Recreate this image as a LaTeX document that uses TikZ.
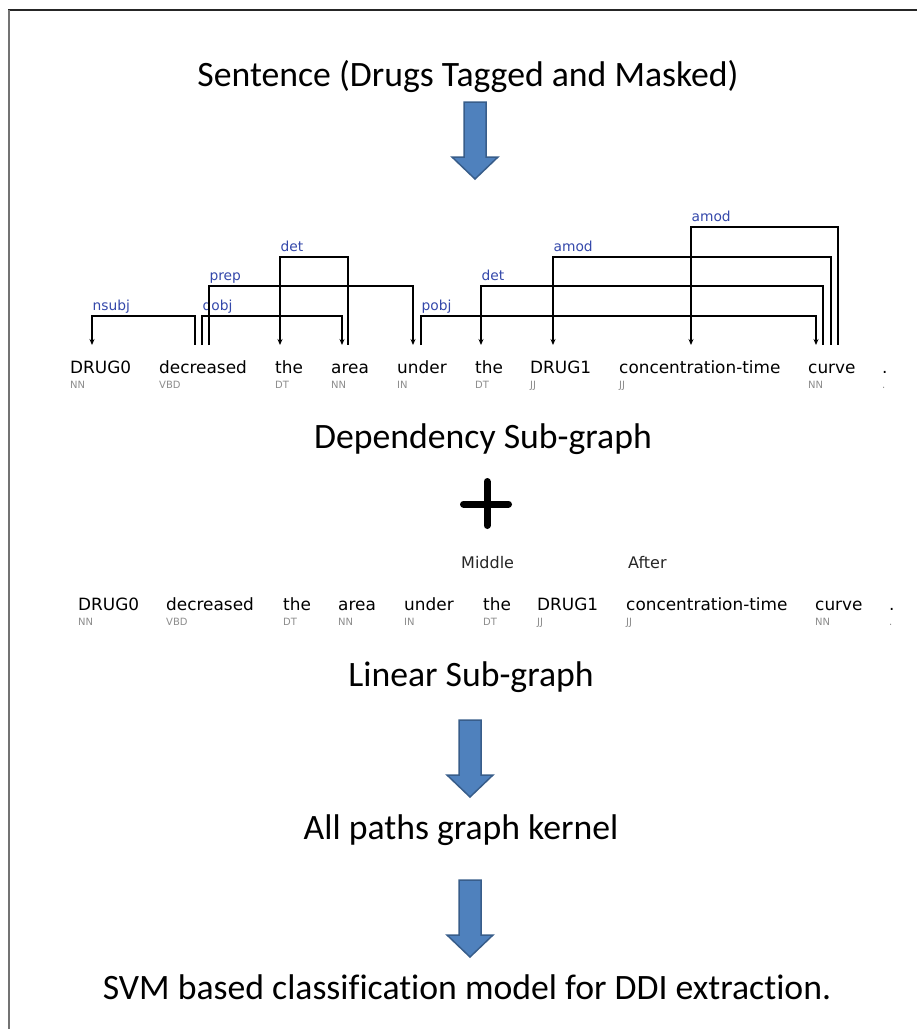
\documentclass[tikz,border=0pt]{standalone}
\usepackage{fontspec}
\setmainfont{Carlito}[Ligatures=NoCommon]
\newfontfamily\depfont{DejaVu Sans}
\usetikzlibrary{calc,arrows.meta}
\definecolor{arrowblue}{RGB}{79,129,189}
\definecolor{arrowedge}{RGB}{56,93,138}
\definecolor{relblue}{RGB}{52,72,170}
\tikzset{
	stage/.style={anchor=base, inner sep=0pt, font=\fontsize{35.7}{40}\selectfont},
	word/.style={anchor=base west, inner sep=0pt, font=\depfont\fontsize{16.9}{18}\selectfont},
	postag/.style={anchor=base west, inner sep=0pt, text=black!45, font=\depfont\fontsize{10}{11}\selectfont},
	window/.style={anchor=base west, inner sep=0pt, text=black!85, font=\depfont\fontsize{16}{18}\selectfont},
	deparc/.style={line width=1.2pt, >={Stealth[length=6pt,width=5pt]}},
	deplabel/.style={anchor=base west, inner sep=0pt, yshift=6pt, text=relblue, font=\depfont\fontsize{13.8}{15}\selectfont},
	blockarrow/.style={fill=arrowblue, draw=arrowedge, line width=1.5pt, line join=miter}
}
\def\blockarrow(#1,#2){\draw[blockarrow] (#1-11,#2) -- (#1+11,#2) -- (#1+11,#2+55) -- (#1+23,#2+55) -- (#1,#2+77) -- (#1-23,#2+55) -- (#1-11,#2+55) -- cycle;}
\def\deparc[#1](#2:#3)(#4:#5)(#6)#7#8{\draw[deparc,#1] ($(#2.base west)+(#3,-28)$) -- ++(0,-#6) node[deplabel] (#7) {#8} -| ($(#4.base west)+(#5,-28)$);}

\begin{document}
\begin{tikzpicture}[x=1pt,y=-1pt]
				\useasboundingbox (0,0) rectangle (917,1029);
				\draw[black!85, line width=1.5pt] (8,10) -- (917,10);
				\draw[black!55, line width=2pt] (8.5,10) -- (8.5,1029);
				
				\node[stage] (sentence) at (468,86) {Sentence (Drugs Tagged and Masked)};
				\blockarrow(475,102)
				
				\node[word] (dw1) at (70,373) {DRUG0};
				\node[word] (dw2) at (159,373) {decreased};
				\node[word] (dw3) at (275,373) {the};
				\node[word] (dw4) at (331,373) {area};
				\node[word] (dw5) at (397,373) {under};
				\node[word] (dw6) at (475,373) {the};
				\node[word] (dw7) at (530,373) {DRUG1};
				\node[word] (dw8) at (619,373) {concentration-time};
				\node[word] (dw9) at (808,373) {curve};
				\node[word] (dw10) at (882,373) {.};
				\node[postag] (dt1) at (70,388) {NN};
				\node[postag] (dt2) at (159,388) {VBD};
				\node[postag] (dt3) at (275,388) {DT};
				\node[postag] (dt4) at (331,388) {NN};
				\node[postag] (dt5) at (397,388) {IN};
				\node[postag] (dt6) at (475,388) {DT};
				\node[postag] (dt7) at (530,388) {JJ};
				\node[postag] (dt8) at (619,388) {JJ};
				\node[postag] (dt9) at (808,388) {NN};
				\node[postag] (dt10) at (882,388) {.};
				
				\deparc[<-](dw1:22)(dw2:36)(29){nsubj}{nsubj}
				\deparc[->](dw2:43)(dw4:11)(29){dobj}{dobj}
				\deparc[->](dw2:50)(dw5:16)(59){prep}{prep}
				\deparc[<-](dw3:5)(dw4:17)(88){det1}{det}
				\deparc[->](dw5:24)(dw9:8)(29){pobj}{pobj}
				\deparc[<-](dw6:6)(dw9:15)(59){det2}{det}
				\deparc[<-](dw7:23)(dw9:23)(88){amod1}{amod}
				\deparc[<-](dw8:72)(dw9:30)(118){amod2}{amod}
				
				\node[stage] (depgraph) at (483,448) {Dependency Sub-graph};
				\draw[line width=7pt, line cap=round] (463.5,504) -- (508.5,504);
				\draw[line width=7pt, line cap=round] (487,481.5) -- (487,525.5);
				
				\node[window] (middle) at (461,568) {Middle};
				\node[window] (after) at (628,568) {After};
				
				\node[word] (lw1) at (78,610) {DRUG0};
				\node[word] (lw2) at (166,610) {decreased};
				\node[word] (lw3) at (283,610) {the};
				\node[word] (lw4) at (338,610) {area};
				\node[word] (lw5) at (404,610) {under};
				\node[word] (lw6) at (483,610) {the};
				\node[word] (lw7) at (537,610) {DRUG1};
				\node[word] (lw8) at (626,610) {concentration-time};
				\node[word] (lw9) at (815,610) {curve};
				\node[word] (lw10) at (889,610) {.};
				\node[postag] (lt1) at (78,625) {NN};
				\node[postag] (lt2) at (166,625) {VBD};
				\node[postag] (lt3) at (283,625) {DT};
				\node[postag] (lt4) at (338,625) {NN};
				\node[postag] (lt5) at (404,625) {IN};
				\node[postag] (lt6) at (483,625) {DT};
				\node[postag] (lt7) at (537,625) {JJ};
				\node[postag] (lt8) at (626,625) {JJ};
				\node[postag] (lt9) at (815,625) {NN};
				\node[postag] (lt10) at (889,625) {.};
				
				\node[stage] (lingraph) at (471,686) {Linear Sub-graph};
				\blockarrow(470,720)
				\node[stage] (kernel) at (461,839) {All paths graph kernel};
				\blockarrow(470,880)
				\node[stage] (svm) at (467,999) {SVM based classification model for DDI extraction.};
\end{tikzpicture}
\end{document}
